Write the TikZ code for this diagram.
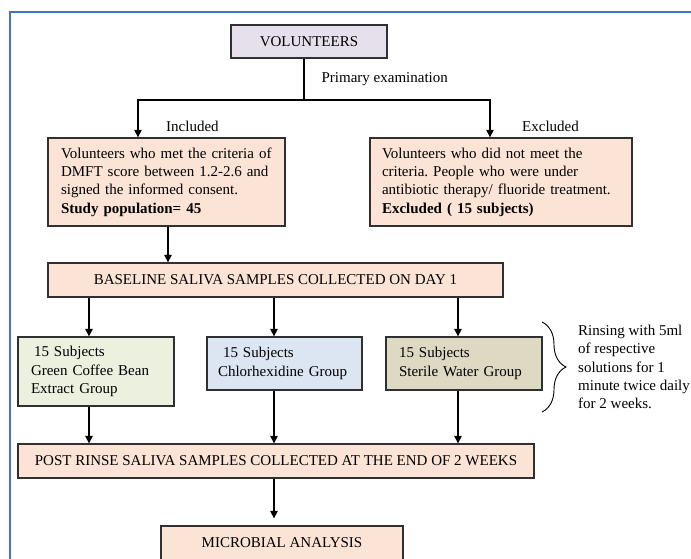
\documentclass[tikz,border=0pt]{standalone}
\usepackage{fontspec}
\setmainfont{Liberation Serif}
\frenchspacing
\definecolor{FlowPeach}{HTML}{FBE4D5}
\definecolor{FlowLilac}{HTML}{E6E0EC}
\definecolor{FlowGreen}{HTML}{EBF1DE}
\definecolor{FlowBlue}{HTML}{DCE6F2}
\definecolor{FlowTan}{HTML}{DDD9C3}
\definecolor{FlowLine}{HTML}{303030}
\definecolor{FrameBlue}{HTML}{4472C4}
\usepackage{tikz}
\usetikzlibrary{positioning,arrows.meta,decorations.pathreplacing,calc}

\begin{document}
\begin{tikzpicture}[x=1pt, y=-1pt, font=\fontsize{15}{18.3}\selectfont,
    box/.style={draw=FlowLine, fill=FlowPeach, line width=1.3pt, inner sep=0pt},
    textbox/.style={box, align=left, inner xsep=#1},
    arr/.style={line width=1.3pt, -{Triangle[length=7.5pt,width=7.5pt]}}]
    \useasboundingbox (0,0) rectangle (691,559);
    \clip (0,0) rectangle (691,559);
    \draw[FrameBlue, line width=2pt] (10,570) -- (10,12) -- (700,12);

    \node[box, fill=FlowLilac, minimum width=156pt, minimum height=33pt] (vol) at (309,41.5) {VOLUNTEERS};
    \node[textbox=13pt, text width=211pt, minimum height=88pt] (incl) at (166.5,182) {%
      Volunteers who met the criteria of\\
      DMFT score between 1.2-2.6 and\\
      signed the informed consent.\\
      \textbf{Study population= 45}};
    \node[textbox=12pt, text width=238pt, minimum height=88pt] (excl) at (501,182) {%
      Volunteers who did not meet the\\
      criteria. People who were under\\
      antibiotic therapy/ fluoride treatment.\\
      \textbf{Excluded ( 15 subjects)}};
    \node[box, minimum width=455pt, minimum height=34pt] (base) at (275.5,280)
      {BASELINE SALIVA SAMPLES COLLECTED ON DAY 1};

    \node[textbox=13pt, fill=FlowGreen, text width=130pt, minimum height=69pt] (gcb) at (96,371.5)
      {\hspace*{3pt}15 Subjects\\Green Coffee Bean\\Extract Group};
    \node[textbox=11pt, fill=FlowBlue, text width=133pt, minimum height=53pt] (chx) at (284.5,363.5)
      {\hspace*{5pt}15 Subjects\\Chlorhexidine Group};
    \node[textbox=13pt, fill=FlowTan, text width=130pt, minimum height=53pt] (water) at (464,363.5)
      {15 Subjects\\Sterile Water Group};

    \node[box, minimum width=516pt, minimum height=34pt] (post) at (276,461)
      {POST RINSE SALIVA SAMPLES COLLECTED AT THE END OF 2 WEEKS};
    \node[box, minimum width=242pt, minimum height=34pt] (micro) at (282,543) {MICROBIAL ANALYSIS};

    \coordinate (split) at (304,100);
    \draw[line width=1.3pt] (vol.south -| split) -- node[midway, anchor=west, inner sep=0pt, xshift=17pt] (exam) {Primary examination} (split);
    \draw[arr] (split) -| ([xshift=-28.5pt]incl.north);
    \draw[arr] (split) -| ([xshift=-11pt]excl.north);
    \node[anchor=west, inner sep=0pt] (inlab) at (166,126) {Included};
    \node[anchor=west, inner sep=0pt] (exlab) at (522,126) {Excluded};

    \draw[arr] ([xshift=1.5pt]incl.south) -- ([xshift=1.5pt]incl.south |- base.north);
    \foreach \g/\s in {gcb/-7, chx/-10.5, water/-6}{
      \draw[arr] ([xshift=\s pt]\g.north |- base.south) -- ([xshift=\s pt]\g.north);
      \draw[arr] ([xshift=\s pt]\g.south) -- ([xshift=\s pt]\g.south |- post.north);
    }
    \draw[arr, shorten >=7pt] ([xshift=-2pt]post.south) -- ([xshift=-2pt]post.south |- micro.north);

    \draw[line width=0.9pt, decorate, decoration={brace, amplitude=24pt}] (542,322) -- (542,412);
    \node[anchor=west, align=left, inner sep=0pt] (rinse) at (578,367)
      {Rinsing with 5ml\\of respective\\solutions for 1\\minute twice daily\\for 2 weeks.};
  \end{tikzpicture}
\end{document}
